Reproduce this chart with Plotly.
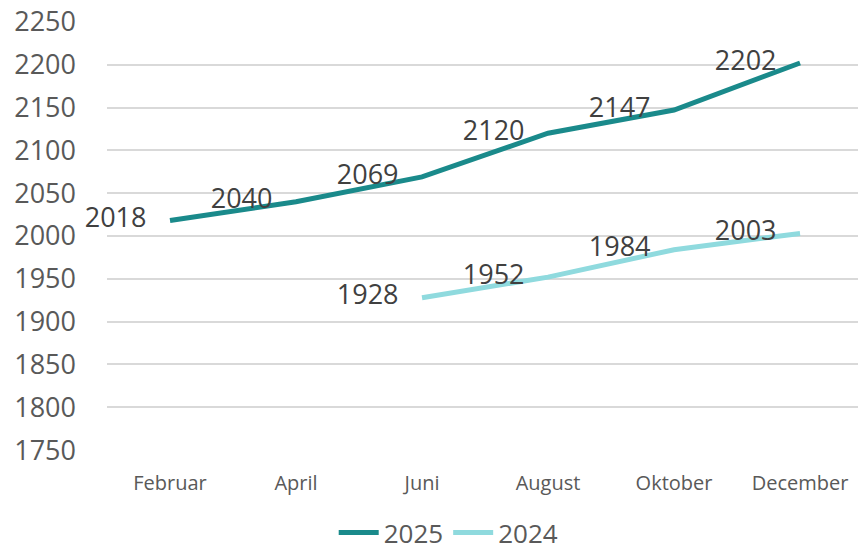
import plotly.graph_objects as go

months = ["Februar", "April", "Juni", "August", "Oktober", "December"]
y2025 = [2018, 2040, 2069, 2120, 2147, 2202]
y2024 = [None, None, 1928, 1952, 1984, 2003]
y_ticks = [1750, 1800, 1850, 1900, 1950, 2000, 2050, 2100, 2150, 2200, 2250]

FONT = "Open Sans"
C2025 = "#1A8A8B"
C2024 = "#8FDADE"

def labels(vals):
    return ["" if v is None else str(v) for v in vals]

fig = go.Figure()
for name, vals, col in [("2025", y2025, C2025), ("2024", y2024, C2024)]:
    fig.add_trace(go.Scatter(
        x=months, y=vals, name=name, mode="lines",
        line=dict(color=col, width=5), hoverinfo="skip",
    ))
for name, vals in [("2025", y2025), ("2024", y2024)]:
    fig.add_trace(go.Scatter(
        x=months, y=vals, name=name + " labels", mode="markers+text",
        marker=dict(size=36, color="rgba(0,0,0,0)"),
        text=labels(vals), textposition="middle left",
        textfont=dict(family=FONT, size=27, color="#404040"),
        showlegend=False, hoverinfo="skip", cliponaxis=False,
    ))

fig.update_layout(
    width=858, height=551,
    margin=dict(l=107, r=0, t=21, b=100, autoexpand=False),
    plot_bgcolor="white", paper_bgcolor="white",
    font=dict(family=FONT, color="#595959"),
    showlegend=True,
    legend=dict(orientation="h", x=0.455, xanchor="center", y=-0.19, yanchor="middle",
                font=dict(family=FONT, size=26, color="#595959"),
                itemwidth=40, tracegroupgap=0),
    xaxis=dict(type="category", range=[-0.5, 5.46], showgrid=False,
               showline=False, zeroline=False, automargin=False,
               tickfont=dict(family=FONT, size=20, color="#595959"),
               ticks="", ticklabelstandoff=18),
    yaxis=dict(range=[1749, 2251], tickvals=y_ticks, showgrid=True,
               gridcolor="#D9D9D9", gridwidth=1.5, zeroline=False, automargin=False,
               tickfont=dict(family=FONT, size=27, color="#595959"),
               ticks="", ticklabelstandoff=30, ticklabeloverflow="allow"),
)

fig.write_html("out.html", config={"displayModeBar": False},
               post_script="document.body.style.margin='0';document.body.style.overflow='hidden';")
